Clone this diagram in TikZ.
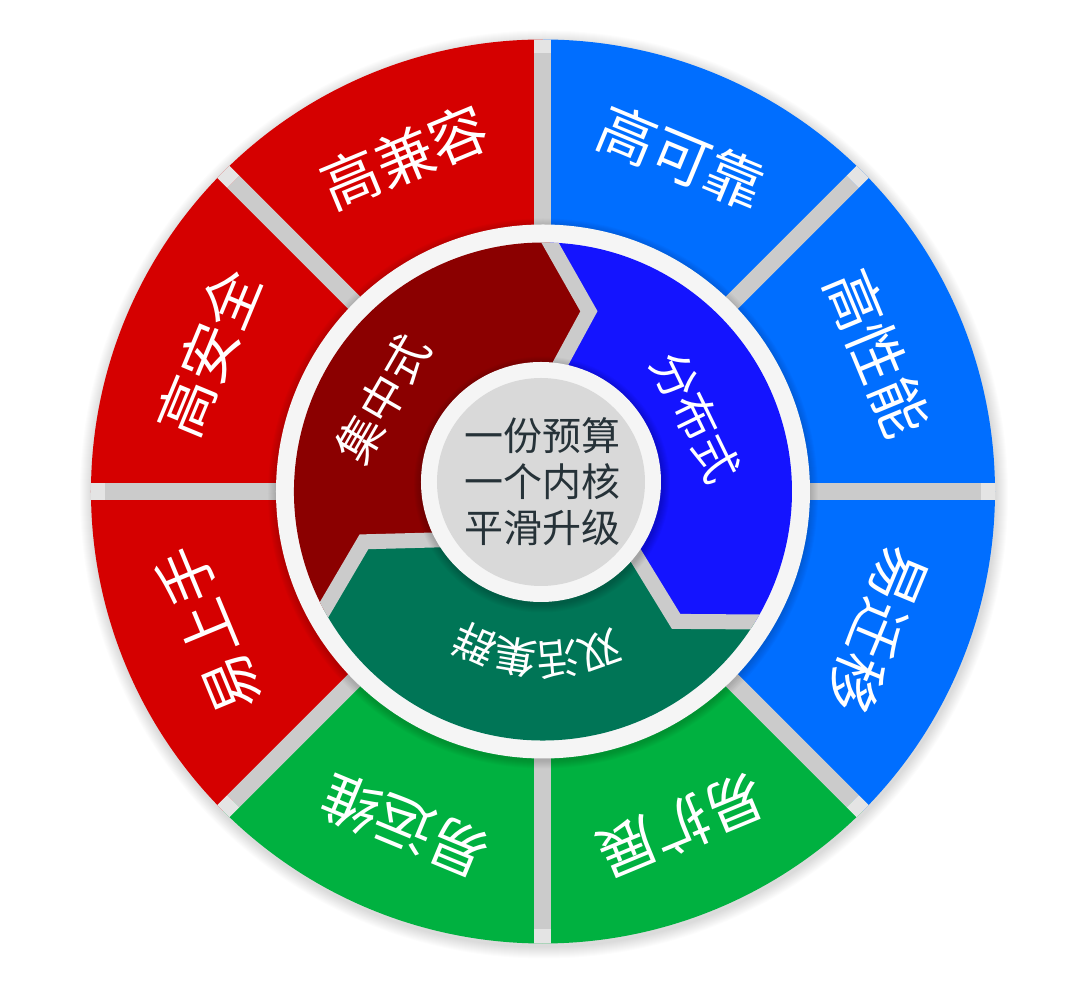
\documentclass[tikz,border=0pt]{standalone}
\usepackage{fontspec}
\newfontfamily\cjk{Noto Sans CJK SC}
\usetikzlibrary{calc}
\definecolor{ored}{HTML}{D50000}
\definecolor{oblue}{HTML}{006EFF}
\definecolor{ogreen}{HTML}{00B140}
\definecolor{ired}{HTML}{8B0000}
\definecolor{iblue}{HTML}{1414FF}
\definecolor{igreen}{HTML}{007556}
\definecolor{gapgray}{HTML}{CBCBCB}
\definecolor{gaplight}{HTML}{E4E4E4}
\definecolor{ringwhite}{HTML}{F5F5F5}
\definecolor{coregray}{HTML}{D9D9D9}
\definecolor{txtdark}{HTML}{263238}
\tikzset{
  olbl/.style={font=\cjk\fontsize{58}{58}\selectfont, text=white, inner sep=0pt},
  ilbl/.style={font=\cjk\fontsize{46}{46}\selectfont, text=white, inner sep=0pt},
  slbl/.style={font=\cjk\fontsize{42}{42}\selectfont, text=white, inner sep=0pt},
  gapline/.style={gapgray, line join=miter},
}
\begin{document}
\begin{tikzpicture}
\useasboundingbox (-543pt,-492.5pt) rectangle (537pt,491.5pt);
\fill[white] (-543pt,-492.5pt) rectangle (537pt,491.5pt);
\coordinate (O) at (0pt,0pt);
% outer soft shadow
\foreach \i in {1,...,12} \fill[black, opacity=0.012] (1pt,-3pt) circle ({(452+\i)*1pt});
% outer segments
\foreach \a/\c in {0/oblue,45/oblue,90/ored,135/ored,180/ored,225/ogreen,270/ogreen,315/oblue}
  \fill[\c] (O) -- (\a:452pt) arc[start angle=\a, end angle=\a+45, radius=452pt] -- cycle;
% outer gaps
\begin{scope}
  \clip (O) circle (452pt);
  \foreach \a in {0,45,...,315} {
    \draw[gapline, line width=17pt] (O) -- (\a:438pt);
    \draw[gaplight, line width=17pt] (\a:438pt) -- (\a:460pt);
  }
\end{scope}
% white ring
\foreach \i in {1,...,8} \fill[black, opacity=0.02] (0pt,-2pt) circle ({(267+\i)*1pt});
\fill[ringwhite] (O) circle (267pt);
% inner segment boundaries
\coordinate (RBo) at (88.4:249pt);  \coordinate (RBt) at (75.7:186pt);   \coordinate (RBi) at (95.8:81pt);
\coordinate (BGo) at (-31.6:249pt); \coordinate (BGt) at (-44.3:186pt);  \coordinate (BGi) at (-24.2:81pt);
\coordinate (GRo) at (208.4:249pt); \coordinate (GRt) at (195.7:186pt);  \coordinate (GRi) at (215.8:81pt);
\fill[ired] (GRi) -- (GRt) -- (GRo) arc[start angle=208.4, end angle=88.4, radius=249pt] -- (RBt) -- (RBi) -- (O) -- cycle;
\fill[iblue] (RBi) -- (RBt) -- (RBo) arc[start angle=88.4, end angle=-31.6, radius=249pt] -- (BGt) -- (BGi) -- (O) -- cycle;
\fill[igreen] (BGi) -- (BGt) -- (BGo) arc[start angle=-31.6, end angle=-151.6, radius=249pt] -- (GRt) -- (GRi) -- (O) -- cycle;
\begin{scope}
  \clip (O) circle (249pt);
  \foreach \p in {RB,BG,GR} \draw[gapline, line width=15pt] (\p i) -- (\p t) -- ($(\p t)!1.3!(\p o)$);
\end{scope}
% center disc
\foreach \i in {1,...,8} \fill[black, opacity=0.025] (-1pt,7pt) circle ({(120+\i)*1pt});
\fill[ringwhite] (-2pt,9.5pt) circle (120pt);
\fill[coregray] (-2pt,9.5pt) circle (104pt);
\node[font=\cjk\fontsize{39}{46}\selectfont, text=txtdark, align=center, inner sep=0pt] (core) at (0pt,10pt) {一份预算\\一个内核\\平滑升级};
% outer labels
\foreach \a/\n/\t in {22.5/lp/高性能, 67.5/lr/高可靠, 112.5/lc/高兼容, 157.5/ls/高安全, 202.5/le/易上手, 247.5/lo/易运维, 292.5/lx/易扩展, 337.5/lm/易迁移} {
  \node[olbl, rotate=\a-90] (\n) at (\a:362pt) {\t};
}
% inner labels
\node[ilbl, rotate=60] (lj) at (150:185pt) {集中式};
\node[ilbl, rotate=-64] (lf) at (26:170pt) {分布式};
\foreach \ang/\ch/\n in {-70.5/双/s1,-85/活/s2,-99.5/集/s3,-114/群/s4} {
  \node[slbl, rotate=\ang-90] (\n) at (\ang:168pt) {\ch};
}
\end{tikzpicture}
\end{document}
